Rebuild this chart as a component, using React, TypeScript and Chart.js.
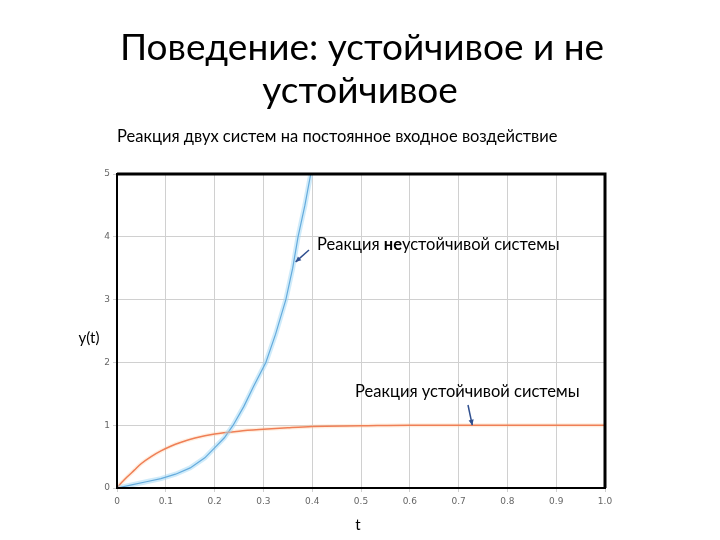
import React, { useEffect, useRef } from "react";
import { Chart, registerables } from "chart.js";

Chart.register(...registerables);

const tStable = [0, 0.01, 0.02, 0.035, 0.05, 0.07, 0.09, 0.11, 0.13, 0.16, 0.2, 0.25, 0.3, 0.35, 0.4, 0.5, 0.6, 0.7, 0.8, 0.9, 1.0];
const yStable = [0, 0.09, 0.17, 0.28, 0.39, 0.5, 0.59, 0.665, 0.725, 0.795, 0.86, 0.905, 0.935, 0.96, 0.98, 0.99, 1.0, 1.0, 1.0, 1.0, 1.0];

const tUnstable = [0, 0.03, 0.06, 0.09, 0.12, 0.15, 0.18, 0.2, 0.22, 0.238, 0.26, 0.28, 0.305, 0.325, 0.346, 0.36, 0.371, 0.385, 0.397, 0.41];
const yUnstable = [0, 0.05, 0.1, 0.15, 0.22, 0.32, 0.48, 0.64, 0.8, 1.0, 1.3, 1.62, 2.0, 2.45, 3.0, 3.5, 4.0, 4.5, 5.0, 5.5];

const xTicks = [0, 0.1, 0.2, 0.3, 0.4, 0.5, 0.6, 0.7, 0.8, 0.9, 1.0];
const yTicks = [0, 1, 2, 3, 4, 5];

const titleLines = ["Поведение: устойчивое и не", "устойчивое"];
const subtitle = "Реакция двух систем на постоянное входное воздействие";
const yLabel = "y(t)";
const xLabel = "t";
const unstableNote = ["Реакция ", "не", "устойчивой системы"];
const stableNote = "Реакция устойчивой системы";

const FONT = "Lato, 'Open Sans', sans-serif";

const pts = (xs: number[], ys: number[]) => xs.map((x, i) => ({ x, y: ys[i] }));

function arrow(ctx: CanvasRenderingContext2D, x1: number, y1: number, x2: number, y2: number) {
  ctx.save();
  ctx.strokeStyle = "#2f4f8f";
  ctx.fillStyle = "#2f4f8f";
  ctx.lineWidth = 1.5;
  ctx.beginPath();
  ctx.moveTo(x1, y1);
  ctx.lineTo(x2, y2);
  ctx.stroke();
  const a = Math.atan2(y2 - y1, x2 - x1);
  const L = 6;
  ctx.beginPath();
  ctx.moveTo(x2, y2);
  ctx.lineTo(x2 - L * Math.cos(a - 0.45), y2 - L * Math.sin(a - 0.45));
  ctx.lineTo(x2 - L * Math.cos(a + 0.45), y2 - L * Math.sin(a + 0.45));
  ctx.closePath();
  ctx.fill();
  ctx.restore();
}

const decor = {
  id: "decor",
  afterDraw(chart: any) {
    const ctx = chart.ctx as CanvasRenderingContext2D;
    const { left, right, top, bottom } = chart.chartArea;
    const xs = chart.scales.x;
    const ys = chart.scales.y;
    ctx.save();
    // frame
    ctx.strokeStyle = "#000";
    ctx.lineWidth = 3;
    ctx.beginPath();
    ctx.moveTo(left, top);
    ctx.lineTo(right, top);
    ctx.lineTo(right, bottom);
    ctx.stroke();
    ctx.lineWidth = 2;
    ctx.beginPath();
    ctx.moveTo(left, top);
    ctx.lineTo(left, bottom);
    ctx.lineTo(right, bottom);
    ctx.stroke();

    // titles
    ctx.fillStyle = "#000";
    ctx.textAlign = "center";
    ctx.textBaseline = "alphabetic";
    ctx.font = `37px ${FONT}`;
    ctx.fillText(titleLines[0], 362, 60);
    ctx.fillText(titleLines[1], 360, 103);

    ctx.textAlign = "left";
    ctx.font = `16.5px ${FONT}`;
    ctx.fillText(subtitle, 117, 142);

    ctx.textAlign = "center";
    ctx.font = `15px ${FONT}`;
    ctx.fillText(yLabel, 89, 343);
    ctx.fillText(xLabel, 358, 530);

    // unstable annotation
    ctx.textAlign = "left";
    let x = 317;
    const yb = 250;
    ctx.font = `16.5px ${FONT}`;
    ctx.fillText(unstableNote[0], x, yb);
    x += ctx.measureText(unstableNote[0]).width;
    ctx.font = `bold 16.5px ${FONT}`;
    ctx.fillText(unstableNote[1], x, yb);
    x += ctx.measureText(unstableNote[1]).width;
    ctx.font = `16.5px ${FONT}`;
    ctx.fillText(unstableNote[2], x, yb);

    ctx.fillText(stableNote, 355, 397);
    ctx.restore();

    arrow(ctx, 309, 250, xs.getPixelForValue(0.366), ys.getPixelForValue(3.6));
    arrow(ctx, 468, 405, xs.getPixelForValue(0.728), ys.getPixelForValue(1.0));
  },
};

export default function App() {
  const ref = useRef<HTMLCanvasElement>(null);
  useEffect(() => {
    if (!ref.current) return;
    const chart = new Chart(ref.current, {
      type: "line",
      data: {
        datasets: [
          {
            data: pts(tUnstable, yUnstable),
            borderColor: "rgba(160, 215, 245, 0.5)",
            borderWidth: 5,
            pointRadius: 0,
            tension: 0,
          },
          {
            data: pts(tStable, yStable),
            borderColor: "rgba(255, 200, 150, 0.3)",
            borderWidth: 4,
            pointRadius: 0,
            cubicInterpolationMode: "monotone",
          },
          {
            data: pts(tStable, yStable),
            borderColor: "#e8603c",
            borderWidth: 1.5,
            pointRadius: 0,
            cubicInterpolationMode: "monotone",
          },
          {
            data: pts(tUnstable, yUnstable),
            borderColor: "#2a7fc4",
            borderWidth: 1.2,
            pointRadius: 0,
            tension: 0,
          },
        ],
      },
      options: {
        responsive: false,
        animation: false,
        layout: { padding: { top: 174, right: 115, left: 0, bottom: 0 } },
        plugins: { legend: { display: false }, tooltip: { enabled: false } },
        scales: {
          x: {
            type: "linear",
            min: 0,
            max: 1,
            afterFit: (s: any) => { s.height = 52; },
            afterBuildTicks: (s: any) => { s.ticks = xTicks.map((v) => ({ value: v })); },
            ticks: {
              font: { size: 9, family: "'DejaVu Sans', sans-serif" },
              color: "#666",
              padding: 4,
              maxRotation: 0,
              callback: (v: any) => (v === 0 ? "0" : Number(v).toFixed(1)),
            },
            grid: { color: "#d0d0d0", tickLength: 4, lineWidth: 1 },
            border: { color: "#000", width: 2 },
          },
          y: {
            type: "linear",
            min: 0,
            max: 5,
            afterFit: (s: any) => { s.width = 117; },
            afterBuildTicks: (s: any) => { s.ticks = yTicks.map((v) => ({ value: v })); },
            ticks: {
              font: { size: 9, family: "'DejaVu Sans', sans-serif" },
              color: "#666",
              padding: 3,
              callback: (v: any) => String(v),
            },
            grid: { color: "#d0d0d0", tickLength: 4, lineWidth: 1 },
            border: { color: "#000", width: 2 },
          },
        },
      },
      plugins: [decor],
    });
    return () => chart.destroy();
  }, []);
  return (
    <div style={{ position: "absolute", left: 0, top: 0, width: 720, height: 540, background: "#fff" }}>
      <canvas ref={ref} width={720} height={540} />
    </div>
  );
}
